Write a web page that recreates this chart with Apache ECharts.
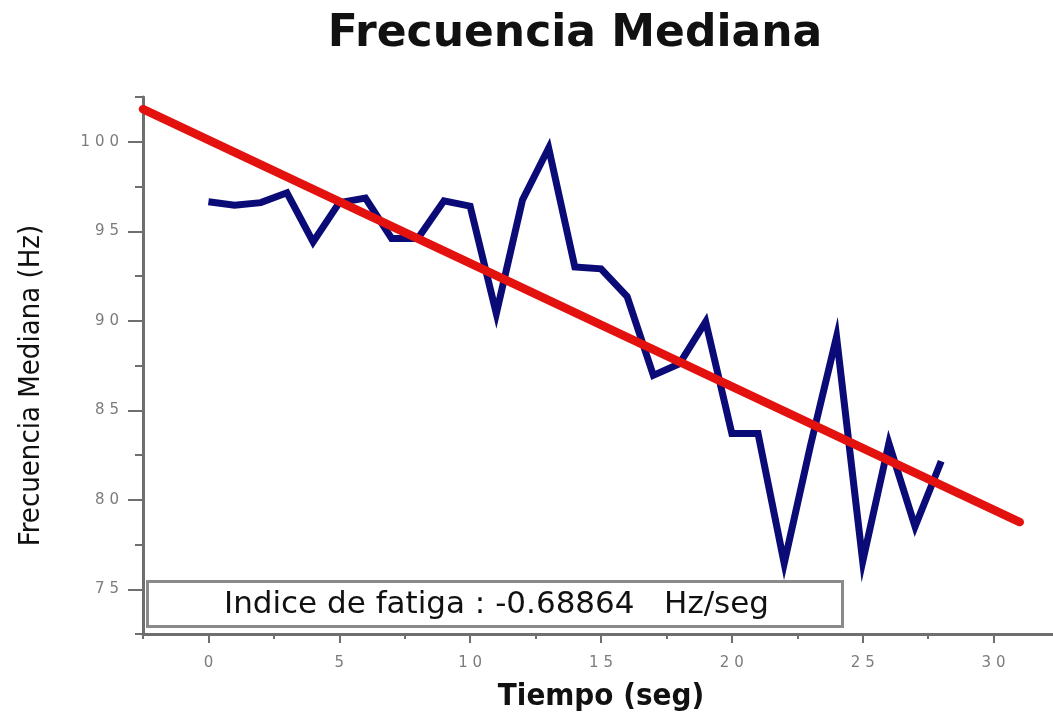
<!DOCTYPE html>
<html>
<head>
<meta charset="utf-8">
<title>Frecuencia Mediana</title>
<script src="https://cdn.jsdelivr.net/npm/echarts@6/dist/echarts.min.js"></script>
<style>
  html, body { margin: 0; padding: 0; background: #ffffff; }
  #chart { width: 1053px; height: 721px; }
</style>
</head>
<body>
<div id="chart"></div>
<script>
// Median frequency per second of recording
const tiempo = [0, 1, 2, 3, 4, 5, 6, 7, 8, 9, 10, 11, 12, 13, 14, 15, 16, 17, 18, 19, 20, 21, 22, 23, 24, 25, 26, 27, 28];
const frecuencia = [96.65, 96.45, 96.6, 97.15, 94.4, 96.6, 96.85, 94.6, 94.6, 96.7, 96.4, 90.4, 96.75, 99.65, 93.0, 92.9, 91.35, 86.95, 87.6, 89.95, 83.7, 83.7, 76.45, 83.0, 89.1, 76.55, 83.15, 78.5, 82.15];

// Linear fit: slope is the fatigue index
const pendiente = -0.68864;
const intercepto = 100.1;
const ajusteDesde = -2.5;
const ajusteHasta = 31;

// Axis ranges and tick values
const rangoX = [-2.5, 32.5];
const rangoY = [72.5, 102.5];
const pasoMenor = 2.5;
const marcasX = [0, 5, 10, 15, 20, 25, 30];
const marcasY = [75, 80, 85, 90, 95, 100];

const serieMedida = tiempo.map((t, i) => [t, frecuencia[i]]);
const serieAjuste = [ajusteDesde, ajusteHasta].map(t => [t, intercepto + pendiente * t]);

const chart = echarts.init(document.getElementById('chart'), null, { renderer: 'canvas' });

const axisGray = '#6e6e6e';
const labelGray = '#7c7c7c';
const condensed = 'DejaVu Sans Condensed, DejaVu Sans, sans-serif';

// spaced-out digits for tick labels
const espaciado = v => String(Math.round(v)).split('').join('\u2004');

const grid = { left: 143, top: 97, width: 916, height: 537, outerBoundsMode: 'none', containLabel: false };

function ejeBase(rango, extra) {
  return Object.assign({
    type: 'value',
    min: rango[0],
    max: rango[1],
    interval: pasoMenor,
    splitLine: { show: false }
  }, extra);
}

chart.setOption({
  animation: false,
  backgroundColor: '#ffffff',
  title: {
    text: 'Frecuencia Mediana',
    left: 570,
    top: 8,
    textAlign: 'center',
    textStyle: {
      fontFamily: 'DejaVu Sans',
      fontWeight: 'bold',
      fontSize: 44,
      color: '#111111'
    }
  },
  grid: grid,
  xAxis: [
    ejeBase(rangoX, {
      name: 'Tiempo (seg)',
      nameLocation: 'middle',
      nameGap: 47,
      nameTextStyle: {
        fontFamily: condensed,
        fontWeight: 'bold',
        fontSize: 31,
        color: '#111111'
      },
      axisLine: { show: true, onZero: false, lineStyle: { color: axisGray, width: 3 } },
      axisTick: { show: true, inside: false, length: 5, lineStyle: { color: axisGray, width: 2 } },
      axisLabel: {
        customValues: marcasX,
        formatter: espaciado,
        margin: 22,
        color: labelGray,
        fontFamily: 'DejaVu Sans',
        fontSize: 15
      }
    }),
    ejeBase(rangoX, {
      position: 'bottom',
      axisLine: { show: false, onZero: false },
      axisTick: { show: true, inside: false, customValues: marcasX, length: 9, lineStyle: { color: axisGray, width: 2 } },
      axisLabel: { show: false }
    })
  ],
  yAxis: [
    ejeBase(rangoY, {
      name: 'Frecuencia Mediana (Hz)',
      nameLocation: 'middle',
      nameGap: 97,
      nameRotate: 90,
      nameTextStyle: {
        fontFamily: condensed,
        fontSize: 29,
        color: '#111111',
        padding: [0, 40, 0, 0]
      },
      axisLine: { show: true, onZero: false, lineStyle: { color: axisGray, width: 3 } },
      axisTick: { show: true, inside: false, length: 8, lineStyle: { color: axisGray, width: 2 } },
      axisLabel: {
        customValues: marcasY,
        formatter: espaciado,
        margin: 24,
        color: labelGray,
        fontFamily: 'DejaVu Sans',
        fontSize: 15
      }
    }),
    ejeBase(rangoY, {
      position: 'left',
      axisLine: { show: false, onZero: false },
      axisTick: { show: true, inside: false, customValues: marcasY, length: 15, lineStyle: { color: axisGray, width: 2 } },
      axisLabel: { show: false }
    })
  ],
  series: [
    {
      name: 'Frecuencia mediana',
      type: 'line',
      data: serieMedida,
      symbol: 'none',
      z: 2,
      lineStyle: { color: '#0b0b78', width: 7, join: 'miter', miterLimit: 10 }
    },
    {
      name: 'Ajuste lineal',
      type: 'line',
      data: serieAjuste,
      symbol: 'none',
      z: 3,
      lineStyle: { color: '#e3120f', width: 8.5, cap: 'round' }
    }
  ],
  graphic: [
    {
      type: 'group',
      left: 146,
      top: 580,
      children: [
        {
          type: 'rect',
          shape: { x: 0, y: 0, width: 695, height: 45 },
          style: { fill: '#ffffff', stroke: '#8a8a8a', lineWidth: 3 }
        },
        {
          type: 'text',
          x: 349,
          y: 23,
          style: {
            text: 'Indice de fatiga : ' + pendiente.toFixed(5) + '   Hz/seg',
            align: 'center',
            verticalAlign: 'middle',
            fontFamily: 'DejaVu Sans',
            fontSize: 31,
            fill: '#111111'
          }
        }
      ]
    }
  ]
});
</script>
</body>
</html>
